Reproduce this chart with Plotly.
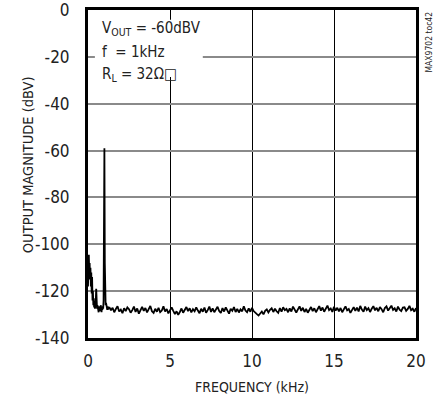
import plotly.graph_objects as go

# Low-frequency detail (kHz, dBV)
lf_freq = [0.000, 0.025, 0.050, 0.075, 0.100, 0.125, 0.150, 0.175, 0.200, 0.225,
           0.250, 0.275, 0.300, 0.325, 0.350, 0.375, 0.400, 0.425, 0.450, 0.475,
           0.500, 0.525, 0.550, 0.575, 0.600, 0.625, 0.650, 0.675, 0.700, 0.725,
           0.750, 0.775, 0.800, 0.825, 0.850, 0.875, 0.900, 0.925, 0.950, 0.975,
           1.000, 1.025, 1.050, 1.075, 1.100, 1.125, 1.150, 1.175, 1.200, 1.225]
lf_mag = [-118.0, -106.0, -104.5, -112.0, -108.0, -115.0, -110.0, -118.0, -112.0, -121.0,
          -114.0, -124.0, -120.0, -126.0, -123.0, -127.0, -125.0, -127.5, -126.0, -124.0,
          -119.0, -126.5, -127.5, -126.0, -128.5, -127.0, -129.0, -126.5, -128.0, -127.0,
          -128.5, -126.0, -127.5, -129.0, -127.0, -128.0, -126.5, -127.5, -124.0, -106.0,
          -59.0, -108.0, -124.0, -126.0, -125.0, -127.5, -126.0, -128.0, -126.5, -127.8]

# Noise floor from 1.3 kHz to 20 kHz, 0.1 kHz bins
nf_start = 1.3
nf_step = 0.1
nf_mag = [
    -126.8, -128.2, -127.1, -129.0, -127.6, -126.4, -128.7, -127.9, -129.4, -127.3,
    -128.5, -126.9, -127.7, -129.2, -128.1, -126.6, -128.9, -127.4, -129.6, -128.0,
    -126.7, -128.4, -127.2, -129.1, -127.8, -126.3, -128.6, -129.3, -127.5, -128.8,
    -127.1, -129.0, -128.3, -126.5, -128.7, -127.6, -129.5, -128.2, -126.9, -128.4,
    -129.8, -128.6, -130.1, -128.9, -127.4, -129.2, -128.0, -126.8, -128.5, -127.3,
    -129.1, -127.7, -128.6, -126.9, -128.3, -129.4, -127.5, -128.8, -127.0, -129.2,
    -128.1, -126.6, -128.9, -127.4, -129.0, -127.9, -126.7, -128.5, -129.3, -127.2,
    -128.7, -126.9, -128.2, -129.6, -127.5, -128.4, -126.8, -128.9, -127.6, -129.1,
    -127.8, -128.6, -126.5, -128.3, -129.0, -127.4, -128.8, -127.1, -128.5, -129.4,
    -129.8, -130.4, -129.6, -128.7, -129.9, -128.4, -127.8, -129.1, -128.0, -127.3,
    -128.9, -127.5, -128.6, -129.3, -127.2, -128.8, -126.9, -128.1, -127.6, -129.0,
    -127.4, -128.7, -126.6, -128.2, -129.1, -127.8, -126.5, -128.4, -127.1, -128.9,
    -127.6, -129.2, -128.0, -126.8, -128.5, -127.3, -129.0, -127.7, -126.4, -128.3,
    -127.0, -128.8, -127.5, -126.2, -128.1, -127.4, -128.9, -126.7, -128.3, -127.1,
    -128.6, -127.2, -129.0, -127.8, -126.5, -128.2, -127.6, -129.3, -127.9, -126.8,
    -128.4, -127.0, -128.7, -126.3, -127.9, -128.8, -126.6, -128.1, -127.3, -128.9,
    -127.5, -126.4, -128.2, -127.1, -128.6, -126.8, -127.7, -129.0, -127.2, -126.5,
    -128.3, -127.4, -126.2, -128.0, -127.3, -128.7, -126.6, -127.9, -128.5, -127.0,
    -126.9, -128.4, -127.6, -126.3, -128.1, -127.5, -128.8, -127.2,
]
nf_freq = [round(nf_start + i * nf_step, 3) for i in range(len(nf_mag))]

freq = lf_freq + nf_freq
mag = lf_mag + nf_mag

x_ticks = [0, 5, 10, 15, 20]
x_labels = ["0", "5", "10", "15", "20"]
y_ticks = [0, -20, -40, -60, -80, -100, -120, -140]
y_labels = ["0", "-20", "-40", "-60", "-80", "-100", "-120", "-140"]

FONT = "DejaVu Sans Condensed, Liberation Sans, sans-serif"
TXT = "#222"

fig = go.Figure()
fig.add_trace(go.Scatter(x=freq, y=mag, mode="lines",
                         line=dict(color="black", width=1.8), showlegend=False,
                         hoverinfo="skip"))

fig.update_layout(
    width=442, height=398,
    margin=dict(l=88, r=26, t=10, b=60, autoexpand=False),
    paper_bgcolor="white", plot_bgcolor="white",
    font=dict(family=FONT, size=17, color=TXT),
    hovermode=False,
)
fig.update_xaxes(
    range=[0, 20], tickvals=x_ticks, ticktext=x_labels,
    showgrid=True, gridcolor="black", gridwidth=1,
    showline=True, linecolor="black", linewidth=3, mirror=True,
    zeroline=False, ticks="", ticklabelstandoff=6, automargin=False,
    ticklabeloverflow="allow",
)
fig.update_yaxes(
    range=[-140, 0], tickvals=y_ticks, ticktext=y_labels,
    showgrid=True, gridcolor="#8a8a8a", gridwidth=2,
    showline=True, linecolor="black", linewidth=3, mirror=True,
    zeroline=False, ticks="", ticklabelstandoff=12, automargin=False,
    ticklabeloverflow="allow",
)

# axis titles
fig.add_annotation(text="FREQUENCY (kHz)", xref="paper", yref="paper",
                   x=0.5, y=0, yshift=-49, xanchor="center", yanchor="middle",
                   showarrow=False, font=dict(family=FONT, size=14, color=TXT))
fig.add_annotation(text="OUTPUT MAGNITUDE (dBV)", xref="paper", yref="paper",
                   x=0, xshift=-60, y=0.527, xanchor="center", yanchor="middle",
                   textangle=-90, showarrow=False,
                   font=dict(family=FONT, size=14.5, color=TXT))

# white label box
fig.add_shape(type="rect", xref="paper", yref="paper",
              x0=0.021, x1=0.35, y0=0.796, y1=0.97,
              fillcolor="white", line=dict(width=0), layer="above")

ann_font = dict(family=FONT, size=15, color=TXT)
labels = [
    ("V<sub>OUT</sub> = -60dBV", 0.945),
    ("f \u00a0= 1kHz", 0.872),
    ("R<sub>L</sub> = 32\u03a9\u25a1", 0.802),
]
for txt, yy in labels:
    fig.add_annotation(text=txt, xref="paper", yref="paper", x=0.036, y=yy,
                       xanchor="left", yanchor="middle", showarrow=False,
                       font=ann_font)

fig.add_annotation(text="MAX9702 toc42", xref="paper", yref="paper",
                   x=1.0, xshift=12, y=1.0, xanchor="center", yanchor="top",
                   textangle=-90, showarrow=False,
                   font=dict(family=FONT, size=8.5, color=TXT))

fig.write_html("out.html",
               config={"displayModeBar": False, "staticPlot": True},
               post_script="document.documentElement.style.margin='0';"
                           "document.body.style.margin='0';")
